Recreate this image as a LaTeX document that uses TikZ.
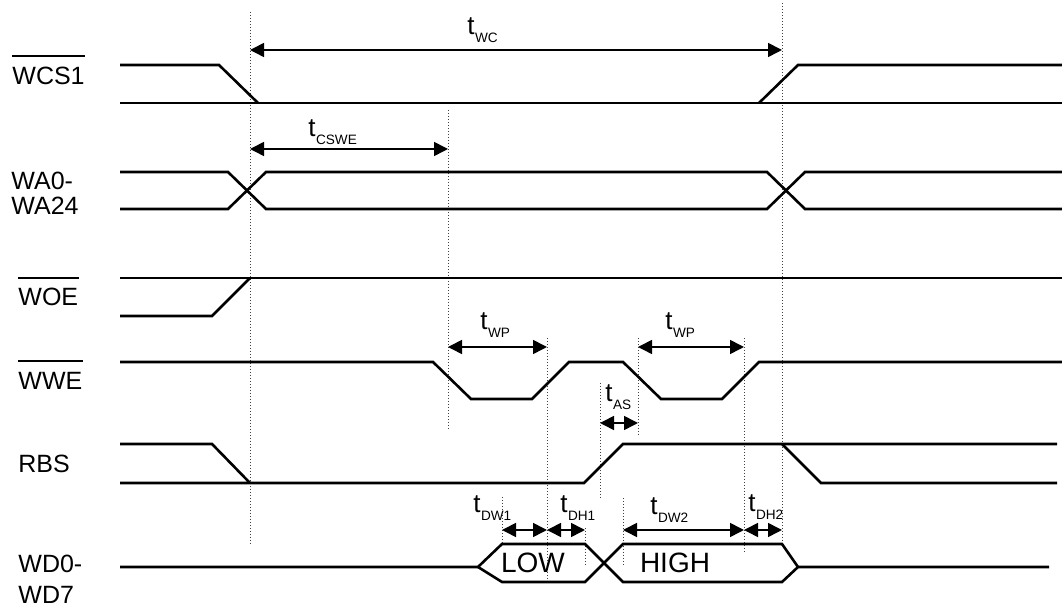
\documentclass[tikz,border=0pt]{standalone}
\usepackage{fontspec}
\setmainfont{Liberation Sans}
\usetikzlibrary{arrows.meta}
\newcommand{\tsub}[1]{t\kern0.2pt\raisebox{-4pt}{\fontsize{6.8}{7}\selectfont #1}}

\begin{document}
\begin{tikzpicture}[
    x=0.5pt, y=-0.5pt,
    sig/.style={line width=1.3pt},
    guide/.style={line width=0.4pt, dash pattern=on 0.5pt off 1pt, black!75},
    dim/.style={{Triangle[length=7pt,width=7pt]}-{Triangle[length=7pt,width=7pt]},
                line width=0.8pt},
    signame/.style={anchor=base west, inner sep=0pt, font=\fontsize{12.5}{14}\selectfont},
    tlab/.style={anchor=base west, inner sep=0pt, font=\fontsize{13}{14}\selectfont},
    state/.style={inner sep=0pt, font=\fontsize{14}{16}\selectfont},
    bar/.style={line width=0.9pt}
  ]
    \useasboundingbox (0,0) rectangle (1062,608);

    % signal names
    \node[signame] (wcs)  at (12,85)  {WCS1};
    \node[signame] (wa0)  at (11,190) {WA0-};
    \node[signame] (wa24) at (11,215) {WA24};
    \node[signame] (woe)  at (18,306) {WOE};
    \node[signame] (wwe)  at (18,390) {WWE};
    \node[signame] (rbs)  at (18,473) {RBS};
    \node[signame] (wd0)  at (18,573) {WD0-};
    \node[signame] (wd7)  at (18,604) {WD7};
    \draw[bar] ([yshift=5.5pt]wcs.north west) -- ([yshift=5.5pt]wcs.north east);
    \draw[bar] ([yshift=5.2pt]woe.north west) -- ([yshift=5.2pt]woe.north east);
    \draw[bar] ([yshift=5.5pt]wwe.north west) -- ([yshift=5.5pt]wwe.north east);

    % guides
    \draw[guide] (250,12)  -- (250,545);
    \draw[guide] (782,3)   -- (782,543);
    \draw[guide] (448,110) -- (448,430);
    \draw[guide] (547,338) -- (547,582);
    \draw[guide] (638,338) -- (638,437);
    \draw[guide] (600,383) -- (600,498);
    \draw[guide] (744,338) -- (744,552);
    \draw[guide] (502,497) -- (502,543);
    \draw[guide] (585,528) -- (585,566);
    \draw[guide] (623,498) -- (623,565);

    % waveforms
    \draw[sig] (120,65) -- (219,65) -- (258,103);
    \draw[sig] (120,103) -- (1062,103);
    \draw[sig] (759,103) -- (798,65) -- (1062,65);

    \draw[sig] (120,172) -- (228,172) -- (266,209) -- (767,209) -- (805,172) -- (1062,172);
    \draw[sig] (120,209) -- (228,209) -- (266,172) -- (767,172) -- (805,209) -- (1062,209);

    \draw[sig] (120,278) -- (1062,278);
    \draw[sig] (120,316) -- (212,316) -- (250,278);

    \draw[sig] (120,362) -- (433,362) -- (471,399) -- (532,399) -- (569,362) -- (623,362)
               -- (661,399) -- (722,399) -- (759,362) -- (1062,362);

    \draw[sig] (120,444) -- (212,444) -- (250,483);
    \draw[sig] (120,483) -- (584,483) -- (623,444) -- (1057,444);
    \draw[sig] (782,444) -- (821,483) -- (1057,483);

    \draw[sig] (120,567) -- (478,567) -- (502,544) -- (585,544) -- (623,582) -- (782,582)
               -- (798,567) -- (1049,567);
    \draw[sig] (478,567) -- (502,582) -- (585,582) -- (623,544) -- (782,544) -- (798,567);
    \node[state] (low)  at (533,563) {LOW};
    \node[state] (high) at (675,563) {HIGH};

    % timing arrows
    \coordinate (wc-l)   at (250,50);  \coordinate (wc-r)   at (782,50);
    \coordinate (cswe-l) at (250,149); \coordinate (cswe-r) at (448,149);
    \coordinate (wp1-l)  at (448,347); \coordinate (wp1-r)  at (547,347);
    \coordinate (wp2-l)  at (638,347); \coordinate (wp2-r)  at (744,347);
    \coordinate (as-l)   at (600,423); \coordinate (as-r)   at (638,423);
    \coordinate (dw1-l)  at (502,530); \coordinate (dh1-l)  at (547,530);
    \coordinate (dh1-r)  at (585,530);
    \coordinate (dw2-l)  at (623,530); \coordinate (dh2-l)  at (744,530);
    \coordinate (dh2-r)  at (782,530);

    \draw[dim] (wc-l)   -- (wc-r);
    \draw[dim] (cswe-l) -- (cswe-r);
    \draw[dim] (wp1-l)  -- (wp1-r);
    \draw[dim] (wp2-l)  -- (wp2-r);
    \draw[dim] (as-l)   -- (as-r);
    \draw[dim] (dw1-l)  -- (dh1-l);
    \draw[dim] (dh1-l)  -- (dh1-r);
    \draw[dim] (dw2-l)  -- (dh2-l);
    \draw[dim] (dh2-l)  -- (dh2-r);

    \node[tlab] (twc)   at (467,35)  {\tsub{WC}};
    \node[tlab] (tcswe) at (308,137) {\tsub{CSWE}};
    \node[tlab] (twp1)  at (480,330) {\tsub{WP}};
    \node[tlab] (twp2)  at (665,330) {\tsub{WP}};
    \node[tlab] (tas)   at (605,402) {\tsub{AS}};
    \node[tlab] (tdw1)  at (473,513) {\tsub{DW1}};
    \node[tlab] (tdh1)  at (560,513) {\tsub{DH1}};
    \node[tlab] (tdw2)  at (650,515) {\tsub{DW2}};
    \node[tlab] (tdh2)  at (748,512) {\tsub{DH2}};
  \end{tikzpicture}
\end{document}
